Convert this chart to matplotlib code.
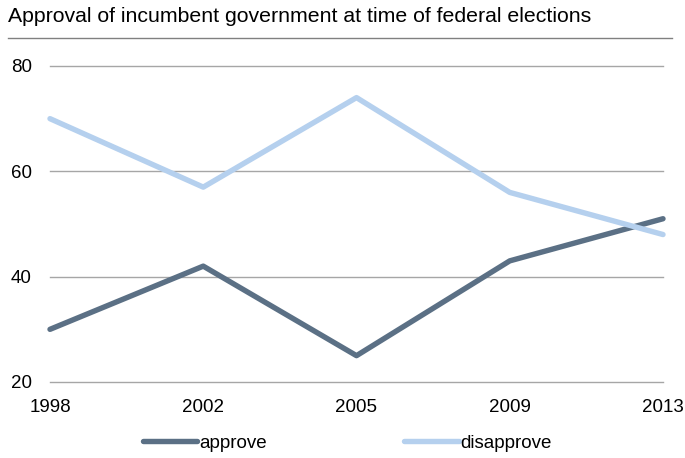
import matplotlib
matplotlib.use("Agg")
import matplotlib.pyplot as plt
from matplotlib.lines import Line2D

plt.rcParams['font.family'] = ['Liberation Sans', 'DejaVu Sans']

years = ["1998", "2002", "2005", "2009", "2013"]
approve = [30, 42, 25, 43, 51]
disapprove = [70, 57, 74, 56, 48]
title = "Approval of incumbent government at time of federal elections"

c_app = "#5b7085"
c_dis = "#b5d0ee"

fig = plt.figure(figsize=(6.85, 4.58), dpi=100)
ax = fig.add_axes([50/685, 1-382/458, (663-50)/685, (382-66)/458])
x = list(range(len(years)))
ax.plot(x, approve, color=c_app, lw=3.9, solid_capstyle='round', solid_joinstyle='round',
        label="approve", zorder=3, clip_on=False)
ax.plot(x, disapprove, color=c_dis, lw=3.9, solid_capstyle='round', solid_joinstyle='round',
        label="disapprove", zorder=3, clip_on=False)
ax.set_xlim(0, len(years)-1)
ax.set_ylim(20, 80)
ax.set_yticks([20, 40, 60, 80])
ax.set_xticks(x)
ax.set_xticklabels(years)
ax.grid(axis='y', color='#a6a6a6', lw=1.0)
for gl in ax.get_ygridlines():
    gl.set_clip_on(False)
ax.set_axisbelow(True)
for s in ax.spines.values():
    s.set_visible(False)
ax.tick_params(axis='both', length=0, labelsize=13.5, colors='black')
ax.tick_params(axis='y', pad=13)
ax.tick_params(axis='x', pad=12.5)

fig.text(8/685, 1-16/458, title, fontsize=15.3, va='center', ha='left')
fig.add_artist(Line2D([8/685, 672/685], [1-38/458, 1-38/458], color='#808080', lw=1.0))

handles = [Line2D([], [], color=c_app, lw=3.9, solid_capstyle='round'),
           Line2D([], [], color=c_dis, lw=3.9, solid_capstyle='round')]
fig.legend(handles, ["approve", "disapprove"], loc='center', bbox_to_anchor=(0.507, 1-443/458),
           ncol=2, frameon=False, fontsize=13.5, handlelength=2.93, handletextpad=0.1,
           columnspacing=7.3)

fig.savefig("out.png", dpi=100)
